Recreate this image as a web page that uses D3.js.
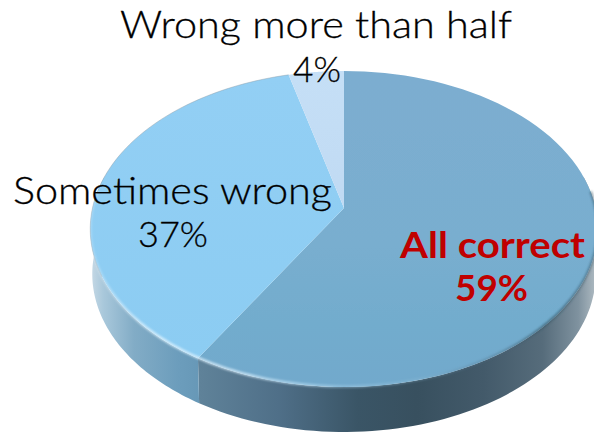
<!DOCTYPE html>
<html><head><meta charset="utf-8">
<script src="https://cdn.jsdelivr.net/npm/d3@7/dist/d3.min.js"></script>
<style>html,body{margin:0;padding:0;background:#fff;overflow:hidden}svg{display:block}text{font-family:Lato,sans-serif}</style>
</head><body><svg id="c" width="594" height="433"></svg>
<script>
const categories = ["All correct", "Sometimes wrong", "Wrong more than half"];
const percentValues = [58.6, 37.4, 4];

const W = 594, H = 433;
const svg = d3.select("#c").attr("viewBox", `0 0 ${W} ${H}`);
const defs = svg.append("defs");

// Perspective disc: apex (344,208), far edge y=71, near edge y=387
const cx = 344, cy = 208, B = 251.5, A = 155.2, persp = 0.133;
const project = (a, dy = 0, s = 1) => {
  const u = Math.sin(a), v = -Math.cos(a), d = 1 - persp * v;
  return [cx + s * B * u / d, cy + A * v / d + dy];
};
const line = d3.line();
const arcs = d3.pie().sort(null)(percentValues);
const samples = (a0, a1) => d3.range(0, 81).map(i => a0 + (a1 - a0) * i / 80);

const grad = (id, x1, x2, y1, y2, stops) => {
  const g = defs.append("linearGradient").attr("id", id).attr("gradientUnits", "userSpaceOnUse")
    .attr("x1", x1).attr("x2", x2).attr("y1", y1).attr("y2", y2);
  stops.forEach(([o, c, op]) => g.append("stop").attr("offset", o).attr("stop-color", c).attr("stop-opacity", op ?? 1));
};
grad("wall0", 200, 594, 0, 0, [[0, "#5f8299"], [.2, "#4f6f88"], [.4, "#3a5566"], [.55, "#38505f"], [.72, "#435a6a"], [.87, "#566c7b"], [.96, "#7f929f"], [1, "#a9b6be"]]);
grad("wall1", 90, 200, 0, 0, [[0, "#c8dae6"], [.12, "#a9c8db"], [.4, "#82acc6"], [.8, "#6c9dbc"], [1, "#6798b7"]]);
grad("top0", 0, 0, 71, 387, [[0, "#7cadd0"], [.55, "#79aecf"], [.8, "#72accd"], [1, "#72a9cc"]]);
grad("top1", 0, 0, 71, 387, [[0, "#93cff4"], [1, "#8bccf2"]]);
grad("top2", 0, 0, 71, 210, [[0, "#c5dff6"], [1, "#c0daf3"]]);
grad("rimL", 95, 344, 0, 0, [[0, "#ffffff", .25], [.25, "#e8f7ff", .8], [.6, "#e0f3ff", .75], [.85, "#bfe2f6", .6], [1, "#a5cfe8", .55]]);
grad("rimR", 344, 594, 0, 0, [[0, "#a5cfe8", .55], [.3, "#8fbcd6", .35], [.55, "#4e7289", .35], [.8, "#33505f", .65], [1, "#33505f", .5]]);
defs.append("filter").attr("id", "blur").append("feGaussianBlur").attr("stdDeviation", .8);
defs.append("filter").attr("id", "soft").append("feGaussianBlur").attr("stdDeviation", .35);

const clampLo = 78 * Math.PI / 180, clampHi = 282 * Math.PI / 180;
const depth = 45, bottomScale = .992;

// side walls
svg.append("g").selectAll("path").data(arcs).join("path")
  .filter(d => d.endAngle > clampLo && d.startAngle < clampHi)
  .attr("fill", d => `url(#wall${d.index})`)
  .attr("d", d => {
    const a = samples(Math.max(d.startAngle, clampLo), Math.min(d.endAngle, clampHi));
    return line([...a.map(t => project(t)), ...a.slice().reverse().map(t => project(t, depth, bottomScale))]) + "Z";
  });

// top faces
svg.append("g").selectAll("path").data(arcs).join("path")
  .attr("fill", d => `url(#top${d.index})`)
  .attr("filter", "url(#soft)")
  .attr("d", d => line([[cx, cy], ...samples(d.startAngle, d.endAngle).map(t => project(t))]) + "Z");

// far-edge hairline
svg.append("path").attr("fill", "none").attr("stroke", "#8a9aa6").attr("stroke-width", .8).attr("opacity", .55)
  .attr("d", line(samples(arcs[1].endAngle - 1.75, arcs[2].startAngle).map(t => project(t))));

// bevel highlight along the near rim
const rim = (a0, a1, url) => svg.append("path").attr("fill", "none").attr("stroke", url)
  .attr("stroke-width", 2.6).attr("filter", "url(#blur)")
  .attr("d", line(samples(a0, a1).map(t => project(t, -.5))));
rim(Math.PI, 276 * Math.PI / 180, "url(#rimL)");
rim(84 * Math.PI / 180, Math.PI, "url(#rimR)");

// labels
const pct = v => `${Math.round(v)}%`;
const labelLines = [
  { text: categories[2], x: 120, w: 392, y: 38, bold: false, size: 37 },
  { text: pct(percentValues[2]), x: 293, w: 48, y: 82, bold: false, size: 36 },
  { text: categories[1], x: 13, w: 319, y: 204, bold: false, size: 37 },
  { text: pct(percentValues[1]), x: 138, w: 70, y: 247, bold: false, size: 36 },
  { text: categories[0], x: 400, w: 185, y: 258, bold: true, size: 37 },
  { text: pct(percentValues[0]), x: 455, w: 73, y: 301, bold: true, size: 36 }
];
svg.append("g").selectAll("text").data(labelLines).join("text")
  .attr("x", d => d.x).attr("y", d => d.y)
  .attr("textLength", d => d.w).attr("lengthAdjust", "spacingAndGlyphs")
  .attr("font-size", d => d.size).attr("font-weight", d => d.bold ? 700 : 300)
  .attr("fill", d => d.bold ? "#c00000" : "#000")
  .attr("stroke", d => d.bold ? "none" : "#000").attr("stroke-width", .3)
  .text(d => d.text);
</script></body></html>
